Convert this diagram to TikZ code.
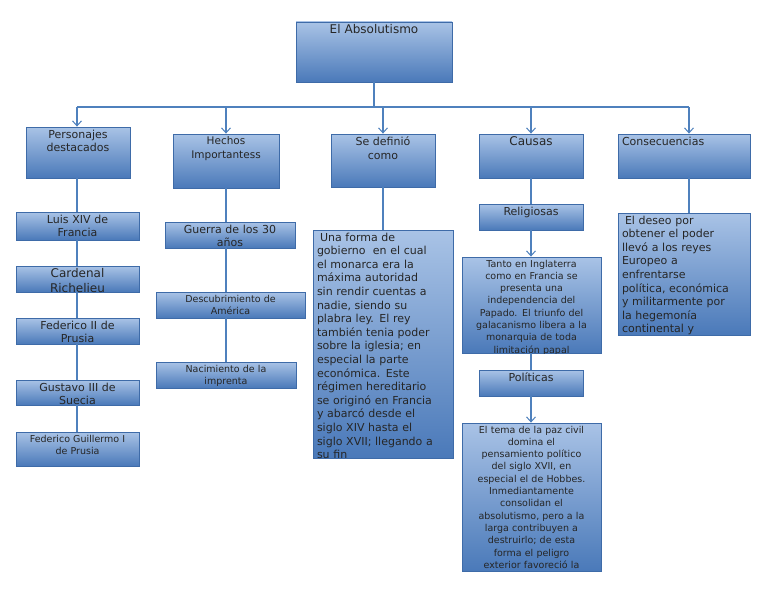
\documentclass[tikz,border=0pt]{standalone}
\usepackage{fontspec}
\setmainfont{DejaVu Sans}
\usetikzlibrary{arrows.meta}
\definecolor{bord}{HTML}{3E6BA8}
\definecolor{ltop}{HTML}{A9C3E6}
\definecolor{lbot}{HTML}{4A79B9}
\definecolor{lin}{HTML}{4F81BD}
\tikzset{
 box/.style={draw=bord,line width=0.8pt,top color=ltop,bottom color=lbot,inner sep=0pt},
 conn/.style={draw=lin,line width=1.6pt},
 arr/.style={conn,-{Straight Barb[length=5pt,width=9pt,line width=1pt]}},
}
\newcommand\bx[8]{%
 \node[box,minimum width={#4-#2},minimum height={#5-#3}] (#1) at ({(#2+#4)/2},{-(#3+#5)/2}) {};
 \begin{scope}\clip (#1.south west) rectangle (#1.north east);
 \node[anchor=north,text width={#4-#2-8},align=#6,inner sep=3pt,text=black!85,font=#7] at (#1.north) {#8};
 \end{scope}}
\begin{document}
\begin{tikzpicture}[x=1pt,y=1pt]
\useasboundingbox[fill=white] (0,0) rectangle (768,-594);
\def\fs{\fontsize{10.5}{13.5}\selectfont}
\def\fb{\fontsize{12}{15}\selectfont}
\def\fm{\fontsize{11}{13.5}\selectfont}
\bx{t}{296}{22}{452}{82}{center}{\fb}{El Absolutismo}
\bx{p}{26}{127}{130}{178}{center}{\fm}{Personajes\\destacados}
\bx{h}{173}{134}{279}{188}{center}{\fs}{Hechos\\Importantess}
\bx{s}{331}{134}{435}{187}{center}{\fm}{Se definió\\como}
\bx{c}{479}{134}{583}{178}{center}{\fb}{Causas}
\bx{q}{618}{134}{750}{178}{left}{\fm}{Consecuencias}
% left column
\bx{l1}{16}{212}{139}{240}{center}{\fm}{Luis XIV de\\Francia}
\bx{l2}{16}{266}{139}{292}{center}{\fb}{Cardenal\\Richelieu}
\bx{l3}{16}{318}{139}{344}{center}{\fm}{Federico II de\\Prusia}
\bx{l4}{16}{380}{139}{405}{center}{\fm}{Gustavo III de\\Suecia}
\bx{l5}{16}{432}{139}{466}{center}{\fontsize{9.5}{12.5}\selectfont}{Federico Guillermo I\\de Prusia}
% hechos column
\bx{h1}{165}{222}{295}{248}{center}{\fm}{Guerra de los 30\\años}
\bx{h2}{156}{292}{305}{318}{center}{\fontsize{9.5}{12.5}\selectfont}{Descubrimiento de\\América}
\bx{h3}{156}{362}{296}{388}{center}{\fontsize{9.5}{12.5}\selectfont}{Nacimiento de la\\imprenta}
% se definió
\bx{s1}{313}{230}{453}{458}{left}{\fontsize{11}{13.6}\selectfont}{\hspace*{3pt}Una forma de\\gobierno\ \ en el cual\\el monarca era la\\máxima autoridad\\sin rendir cuentas a\\nadie, siendo su\\plabra ley. El rey\\también tenia poder\\sobre la iglesia; en\\especial la parte\\económica. Este\\régimen hereditario\\se originó en Francia\\y abarcó desde el\\siglo XIV hasta el\\siglo XVII; llegando a\\su fin}
% causas
\bx{c1}{479}{204}{583}{230}{center}{\fm}{Religiosas}
\bx{c2}{462}{257}{601}{353}{center}{\fontsize{9.5}{12.3}\selectfont}{Tanto en Inglaterra\\como en Francia se\\presenta una\\independencia del\\Papado. El triunfo del\\galacanismo libera a la\\monarquia de toda\\limitación papal}
\bx{c3}{479}{370}{583}{396}{center}{\fm}{Políticas}
\bx{c4}{462}{423}{601}{571}{center}{\fontsize{9.5}{12.3}\selectfont}{El tema de la paz civil\\domina el\\pensamiento político\\del siglo XVII, en\\especial el de Hobbes.\\Inmediantamente\\consolidan el\\absolutismo, pero a la\\larga contribuyen a\\destruirlo; de esta\\forma el peligro\\exterior favoreció la}
% consecuencias
\bx{q1}{618}{213}{750}{335}{left}{\fontsize{11}{13.6}\selectfont}{\hspace*{3pt}El deseo por\\obtener el poder\\llevó a los reyes\\Europeo a\\enfrentarse\\política, económica\\y militarmente por\\la hegemonía\\continental y}
% connectors
\coordinate (bar) at (374,-107);
\coordinate (bl) at (77,-107);
\coordinate (br) at (689,-107);
\draw[conn] (t.south) -- (bar);
\draw[conn] (bl) -- (br);
\draw[arr] (bl) -- (p.north -| bl);
\draw[arr] (bl -| h.north) -- (h.north);
\draw[arr] (bl -| s.north) -- (s.north);
\draw[arr] (bl -| c.north) -- (c.north);
\draw[arr] (br) -- (q.north -| br);
\draw[conn] (p.south -| bl) -- (l1.north -| bl);
\draw[conn] (l1.south -| bl) -- (l2.north -| bl);
\draw[conn] (l2.south -| bl) -- (l3.north -| bl);
\draw[conn] (l3.south -| bl) -- (l4.north -| bl);
\draw[conn] (l4.south -| bl) -- (l5.north -| bl);
\draw[conn] (h.south) -- (h1.north -| h.south);
\draw[conn] (h1.south -| h.south) -- (h2.north -| h.south);
\draw[conn] (h2.south -| h.south) -- (h3.north -| h.south);
\draw[conn] (s.south) -- (s1.north -| s.south);
\draw[conn] (c.south) -- (c1.north);
\draw[arr] (c1.south) -- (c2.north -| c1.south);
\draw[conn] (c2.south -| c1.south) -- (c3.north);
\draw[arr] (c3.south) -- (c4.north -| c3.south);
\draw[conn] (q.south -| br) -- (q1.north -| br);
\end{tikzpicture}
\end{document}
